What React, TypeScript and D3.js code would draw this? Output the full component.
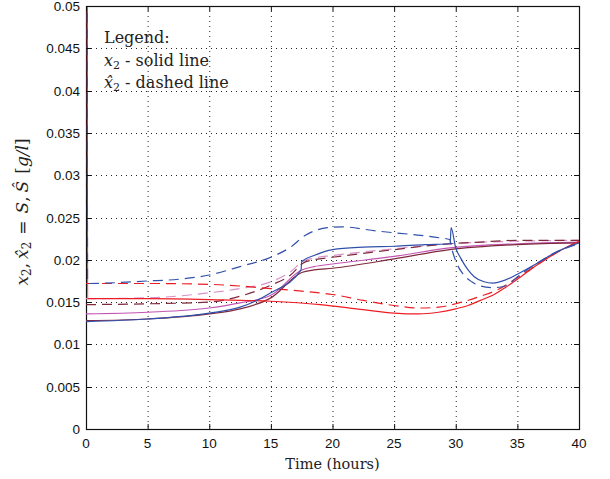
import * as d3 from 'd3'

const W = 610
const H = 479
const LEFT = 86
const RIGHT = 579
const TOP = 6
const BOTTOM = 429

const X_TICKS = [0, 5, 10, 15, 20, 25, 30, 35, 40]
const Y_TICKS = [0, 0.005, 0.01, 0.015, 0.02, 0.025, 0.03, 0.035, 0.04, 0.045, 0.05]

// true state x2 (solid lines)
const blueSolidT = [0, 5, 10, 12.5, 15, 17.45, 17.5, 18.5, 20, 22.5, 25, 27.5, 29.55, 29.62, 30, 30.4, 31, 31.5, 32.3, 33, 34, 35, 36.5, 38, 40]
const blueSolidV = [0.0127, 0.013, 0.0137, 0.0144, 0.0161, 0.0188, 0.0198, 0.0205, 0.0212, 0.0215, 0.0216, 0.0218, 0.0219, 0.0238, 0.0214, 0.0202, 0.0188, 0.018, 0.0174, 0.01725, 0.0176, 0.0183, 0.0195, 0.0208, 0.022]

const brownSolidT = [0, 5, 10, 12.5, 15, 17.5, 18.5, 20, 25, 29.5, 35, 40]
const brownSolidV = [0.0128, 0.013, 0.0136, 0.0142, 0.0155, 0.0185, 0.0188, 0.019, 0.0201, 0.0212, 0.0218, 0.022]

const pinkSolidT = [0, 5, 10, 12.5, 15, 17.5, 18.5, 20, 25, 29.5, 35, 40]
const pinkSolidV = [0.0136, 0.0138, 0.0143, 0.0149, 0.0158, 0.0188, 0.0192, 0.0195, 0.0204, 0.0214, 0.0219, 0.0221]

const redSolidT = [0.09, 0.13, 5, 10, 15, 19, 22.5, 25, 27, 28.6, 30, 31, 32, 33, 34, 35, 36.5, 38, 40]
const redSolidV = [0.07, 0.0154, 0.0154, 0.0153, 0.0151, 0.0147, 0.0141, 0.0137, 0.0136, 0.0138, 0.0142, 0.0146, 0.0152, 0.0158, 0.0167, 0.0177, 0.0193, 0.0207, 0.0222]

// estimates x2-hat (dashed lines)
const blueDashT = [0.09, 0.13, 5, 7.5, 10, 12.5, 15, 16.6, 17.8, 19.6, 20.7, 23.6, 26.4, 28.7, 29.5, 29.7, 30.1, 30.6, 31.3, 32, 33, 34, 35.2, 36.5, 38, 40]
const blueDashV = [0.07, 0.0172, 0.0175, 0.0177, 0.0182, 0.0192, 0.0203, 0.0215, 0.0229, 0.0238, 0.0239, 0.0234, 0.023, 0.0226, 0.0224, 0.0212, 0.0195, 0.0183, 0.0174, 0.0169, 0.0167, 0.0169, 0.0182, 0.0195, 0.0208, 0.0219]

const redDashT = [0, 5, 10, 12.5, 15, 17.5, 20, 22.5, 25, 27, 28.6, 30, 32, 33.6, 35, 36.5, 38, 40]
const redDashV = [0.0172, 0.0172, 0.0171, 0.0169, 0.0166, 0.0163, 0.0159, 0.0152, 0.0146, 0.0143, 0.0144, 0.0148, 0.0157, 0.0166, 0.0179, 0.0193, 0.0207, 0.0222]

const brownDashT = [0, 5, 10, 12.5, 15, 16.6, 17.6, 18.5, 20, 25, 29.5, 32, 35, 40]
const brownDashV = [0.0147, 0.0148, 0.015, 0.0157, 0.017, 0.0182, 0.0196, 0.02, 0.0203, 0.0212, 0.0219, 0.0221, 0.0223, 0.0223]

const pinkDashT = [0, 5, 10, 12.5, 15, 16.6, 17.6, 18.5, 20, 25, 29.5, 35, 40]
const pinkDashV = [0.0154, 0.0155, 0.0161, 0.0166, 0.0174, 0.0186, 0.0198, 0.0202, 0.0205, 0.0213, 0.0219, 0.0222, 0.0223]

const BLUE = '#3150aa'
const RED = '#ee1c24'
const BROWN = '#7e2a3c'
const PINK = '#c255b4'
const PINK_LIGHT = '#d793c9'

const series = [
  { t: pinkDashT, v: pinkDashV, color: PINK_LIGHT, dashed: true },
  { t: brownDashT, v: brownDashV, color: BROWN, dashed: true },
  { t: redDashT, v: redDashV, color: RED, dashed: true },
  { t: pinkSolidT, v: pinkSolidV, color: PINK, dashed: false },
  { t: brownSolidT, v: brownSolidV, color: BROWN, dashed: false },
  { t: redSolidT, v: redSolidV, color: RED, dashed: false },
  { t: blueDashT, v: blueDashV, color: BLUE, dashed: true },
  { t: blueSolidT, v: blueSolidV, color: BLUE, dashed: false },
]

const x = d3.scaleLinear([0, 40], [LEFT, RIGHT])
const y = d3.scaleLinear([0, 0.05], [BOTTOM, TOP])

const path = d3
  .line<[number, number]>()
  .x((d) => x(d[0]))
  .y((d) => y(d[1]))
  .curve(d3.curveMonotoneX)

const SERIF = '"DejaVu Serif", "Liberation Serif", serif'
const SANS = '"Liberation Sans", Arial, sans-serif'

const py = (v: number) => Math.round(y(v)) + 0.5

export default function App() {
  return (
    <svg width={W} height={H} style={{ position: 'absolute', left: 0, top: 0 }}>
      <rect width={W} height={H} fill="white" />
      <defs>
        <clipPath id="plot">
          <rect x={LEFT} y={TOP} width={RIGHT - LEFT} height={BOTTOM - TOP} />
        </clipPath>
      </defs>
      {/* grid */}
      <g stroke="#222" strokeWidth={1} strokeDasharray="1,4">
        {X_TICKS.slice(1, -1).map((t) => (
          <line key={'gx' + t} x1={x(t) + 0.5} x2={x(t) + 0.5} y1={TOP} y2={BOTTOM} />
        ))}
        {Y_TICKS.slice(1, -1).map((v) => (
          <line key={'gy' + v} x1={LEFT} x2={RIGHT} y1={py(v)} y2={py(v)} />
        ))}
      </g>
      {/* frame */}
      <rect x={LEFT + 0.5} y={TOP + 0.5} width={RIGHT - LEFT} height={BOTTOM - TOP} fill="none" stroke="#111" strokeWidth={1.2} />
      {/* curves */}
      <g clipPath="url(#plot)" fill="none" strokeWidth={1.2}>
        {series.map((s, i) => (
          <path
            key={i}
            d={path(s.t.map((t, j) => [t, s.v[j]] as [number, number])) ?? ''}
            stroke={s.color}
            strokeDasharray={s.dashed ? '10,6' : undefined}
          />
        ))}
      </g>
      <g stroke="#111" strokeWidth={1}>
        {X_TICKS.map((t) => (
          <g key={'tx' + t}>
            <line x1={x(t) + 0.5} x2={x(t) + 0.5} y1={BOTTOM} y2={BOTTOM - 5} />
            <line x1={x(t) + 0.5} x2={x(t) + 0.5} y1={TOP} y2={TOP + 5} />
          </g>
        ))}
        {Y_TICKS.map((v) => (
          <g key={'ty' + v}>
            <line x1={LEFT} x2={LEFT + 5} y1={py(v)} y2={py(v)} />
            <line x1={RIGHT} x2={RIGHT - 5} y1={py(v)} y2={py(v)} />
          </g>
        ))}
      </g>
      <g fontFamily={SANS} fontSize={13.5} fill="#111">
        {X_TICKS.map((t) => (
          <text key={'lx' + t} x={x(t)} y={BOTTOM + 19} textAnchor="middle">
            {t}
          </text>
        ))}
        {Y_TICKS.map((v) => (
          <text key={'ly' + v} x={LEFT - 6} y={y(v) + 5} textAnchor="end">
            {v}
          </text>
        ))}
      </g>
      <text x={(LEFT + RIGHT) / 2} y={469} textAnchor="middle" fontFamily={SERIF} fontSize={14.5} fill="#222">
        Time (hours)
      </text>
      <text
        transform={`translate(28,${212}) rotate(-90)`}
        textAnchor="middle"
        fontFamily={SERIF}
        fontSize={17}
        fill="#222"
      >
        <tspan fontStyle="italic">x</tspan>
        <tspan fontSize={12} dy={3}>2</tspan>
        <tspan dy={-3}>,</tspan>
        <tspan fontStyle="italic" dx={4}>{'x\u0302'}</tspan>
        <tspan fontSize={12} dy={3}>2</tspan>
        <tspan dy={-3} dx={7}>=</tspan>
        <tspan fontStyle="italic" dx={7}>S</tspan>
        <tspan>,</tspan>
        <tspan fontStyle="italic" dx={4}>{'\u015C'}</tspan>
        <tspan dx={7}>[</tspan>
        <tspan fontStyle="italic">g/l</tspan>
        <tspan>]</tspan>
      </text>
      <g fontFamily={SERIF} fontSize={16} fill="#222">
        <text x={104} y={43}>Legend:</text>
        <text x={104} y={66}>
          <tspan fontStyle="italic">x</tspan>
          <tspan fontSize={11} dy={3}>2</tspan>
          <tspan dy={-3}> - solid line</tspan>
        </text>
        <text x={104} y={88}>
          <tspan fontStyle="italic">{'x\u0302'}</tspan>
          <tspan fontSize={11} dy={3}>2</tspan>
          <tspan dy={-3}> - dashed line</tspan>
        </text>
      </g>
    </svg>
  )
}
